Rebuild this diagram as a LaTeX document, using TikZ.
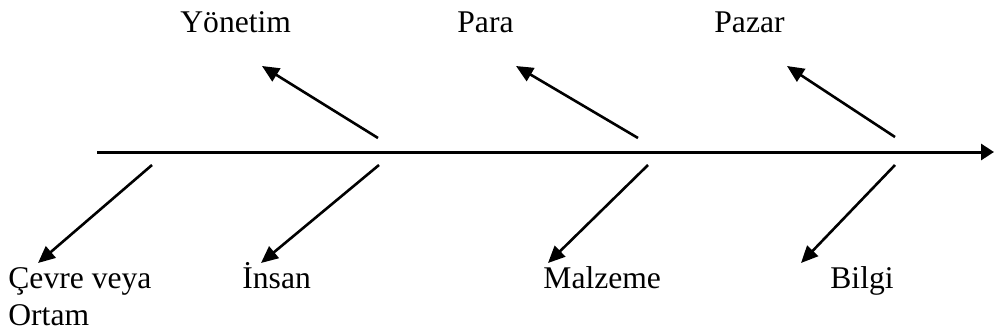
\documentclass[tikz,border=0pt]{standalone}
\usepackage{fontspec}
\setmainfont{Liberation Serif}
\usetikzlibrary{arrows.meta}
\begin{document}
\begin{tikzpicture}[x=0.5pt,y=-0.5pt,
  lbl/.style={anchor=base west,inner sep=0pt,font=\fontsize{15.8}{18}\selectfont},
  bone/.style={line width=1.3pt,-{Triangle[length=8.5pt,width=7.5pt]}},
  spine/.style={line width=1.5pt,-{Triangle[length=6.5pt,width=8pt]}}]
\useasboundingbox (0,0) rectangle (994,333);
% text labels
\node[lbl] (yon) at (180,32) {Yönetim};
\node[lbl] (para) at (457,32) {Para};
\node[lbl] (pazar) at (714,32) {Pazar};
\node[lbl] (cevre) at (8,288) {Çevre veya};
\node[lbl] (ortam) at (8,325) {Ortam};
\node[lbl] (insan) at (242,288) {İnsan};
\node[lbl] (malz) at (543,288) {Malzeme};
\node[lbl] (bilgi) at (830,288) {Bilgi};
% spine
\coordinate (s0) at (97,152);
\coordinate (s1) at (994,152);
\draw[spine] (s0) -- (s1);
% top bones
\coordinate (a1) at (378,138); \coordinate (t1) at (262,66);
\coordinate (a2) at (638,138); \coordinate (t2) at (516,66);
\coordinate (a3) at (895,137); \coordinate (t3) at (787,66);
\draw[bone] (a1) -- (t1);
\draw[bone] (a2) -- (t2);
\draw[bone] (a3) -- (t3);
% bottom bones
\coordinate (b1) at (152,165); \coordinate (u1) at (38,263);
\coordinate (b2) at (379,165); \coordinate (u2) at (261,263);
\coordinate (b3) at (648,165); \coordinate (u3) at (548,263);
\coordinate (b4) at (895,165); \coordinate (u4) at (801,263);
\draw[bone] (b1) -- (u1);
\draw[bone] (b2) -- (u2);
\draw[bone] (b3) -- (u3);
\draw[bone] (b4) -- (u4);
\end{tikzpicture}
\end{document}
